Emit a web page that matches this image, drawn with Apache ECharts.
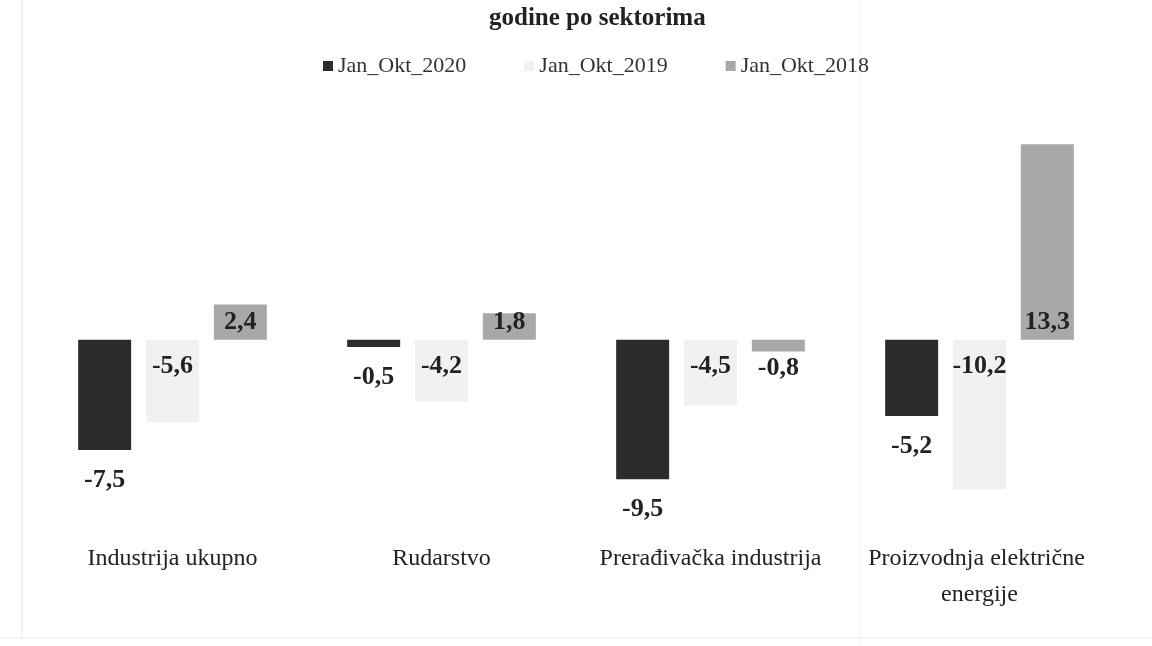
<!DOCTYPE html>
<html>
<head>
<meta charset="utf-8">
<script src="https://cdn.jsdelivr.net/npm/echarts@6/dist/echarts.min.js"></script>
<style>
  html, body { margin: 0; padding: 0; background: #fff; }
  #chart { width: 1152px; height: 646px; }
</style>
</head>
<body>
<div id="chart"></div>
<script>
const categories = ['Industrija ukupno', 'Rudarstvo', 'Prerađivačka industrija', 'Proizvodnja električne energije']
const seriesNames = ['Jan_Okt_2020', 'Jan_Okt_2019', 'Jan_Okt_2018']
const values2020 = [-7.5, -0.5, -9.5, -5.2]
const values2019 = [-5.6, -4.2, -4.5, -10.2]
const values2018 = [2.4, 1.8, -0.8, 13.3]

const FONT = '"Liberation Serif", "DejaVu Serif", serif'
const fmt = (v) => String(v).replace('.', ',')

const labelBase = {
  show: true,
  fontFamily: FONT,
  fontSize: 26,
  fontWeight: 'bold',
  color: '#222',
  formatter: (p) => fmt(p.value),
}

const chart = echarts.init(document.getElementById('chart'))

chart.setOption({
  animation: false,
  backgroundColor: '#ffffff',
  title: {
    text: 'godine po sektorima',
    left: 484,
    top: 1,
    textStyle: { fontFamily: FONT, fontSize: 25, fontWeight: 'bold', color: '#222' },
  },
  legend: {
    top: 50,
    left: 318,
    itemWidth: 10,
    itemHeight: 10,
    itemGap: 58,
    icon: 'rect',
    textStyle: { fontFamily: FONT, fontSize: 22, color: '#333' },
    data: seriesNames,
  },
  grid: { top: 134, bottom: 130, left: 38, right: 38 },
  xAxis: {
    type: 'category',
    data: categories,
    axisLine: { show: false, onZero: false },
    axisTick: { show: false },
    axisLabel: {
      margin: 25,
      fontFamily: FONT,
      fontSize: 24,
      color: '#222',
      lineHeight: 36,
      width: 266,
      overflow: 'break',
      interval: 0,
    },
  },
  yAxis: {
    type: 'value',
    min: -12,
    max: 14,
    show: false,
    splitLine: { show: false },
  },
  series: [
    {
      name: seriesNames[0],
      type: 'bar',
      barWidth: 53,
      barGap: '28%',
      itemStyle: { color: '#2c2c2c' },
      label: { ...labelBase, position: 'bottom', distance: 17 },
      data: values2020,
    },
    {
      name: seriesNames[1],
      type: 'bar',
      barWidth: 53,
      barGap: '28%',
      itemStyle: { color: '#f1f1f1' },
      label: { ...labelBase, position: 'insideTop', distance: 14 },
      data: values2019,
    },
    {
      name: seriesNames[2],
      type: 'bar',
      barWidth: 53,
      barGap: '28%',
      itemStyle: { color: '#a8a8a8' },
      data: values2018.map((v) => ({
        value: v,
        label: { ...labelBase, position: v >= 0 ? 'insideBottom' : 'bottom', distance: 4 },
      })),
    },
  ],
  graphic: [
    { type: 'line', shape: { x1: 22, y1: 0, x2: 22, y2: 638 }, style: { stroke: '#e6e6e6', lineWidth: 1 } },
    { type: 'line', shape: { x1: 0, y1: 638, x2: 1152, y2: 638 }, style: { stroke: '#ebebeb', lineWidth: 1 } },
    { type: 'line', shape: { x1: 860, y1: 0, x2: 860, y2: 646 }, style: { stroke: '#f2f2f2', lineWidth: 1 } },
  ],
})

window.addEventListener('resize', () => chart.resize())
</script>
</body>
</html>
